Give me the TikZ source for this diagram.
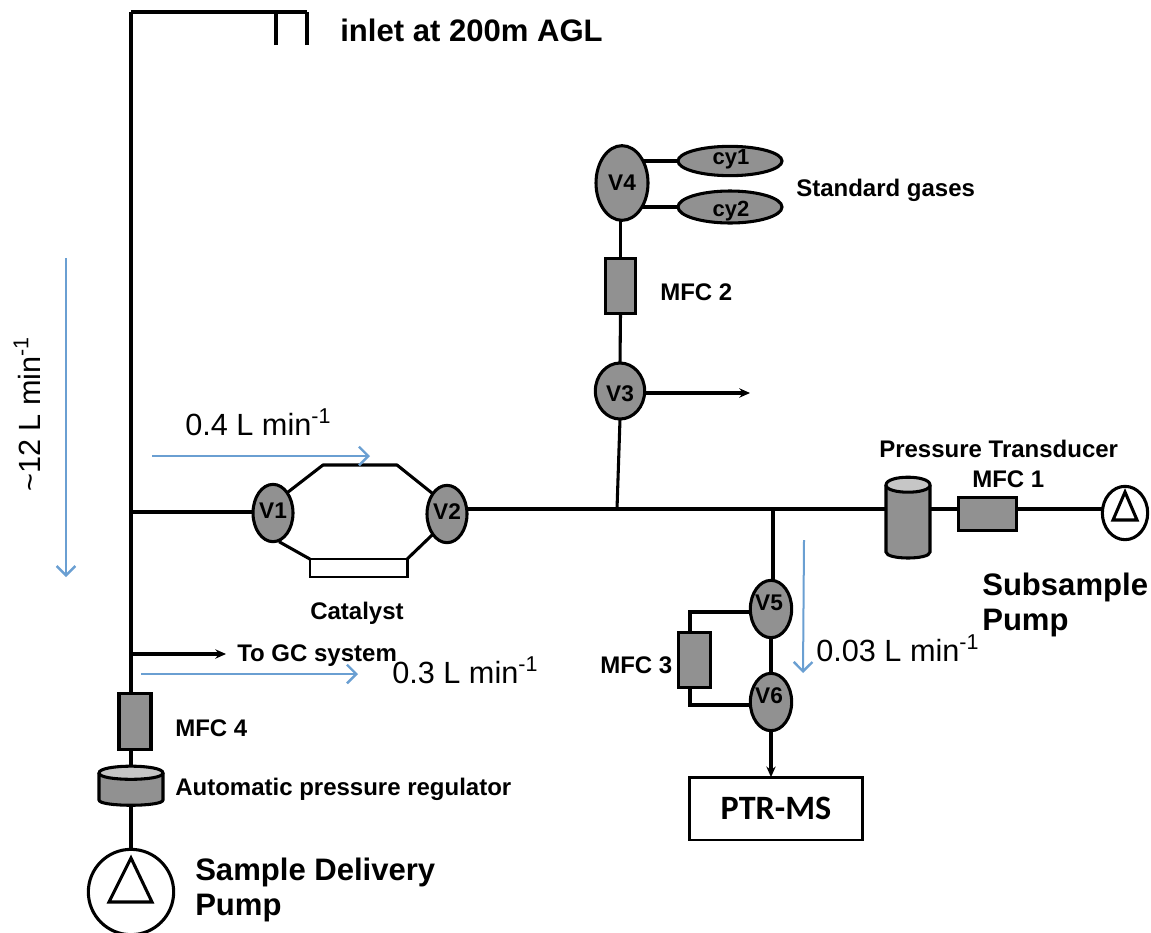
\documentclass[tikz,border=0pt]{standalone}
\usepackage{fontspec}
\setmainfont{Liberation Sans}
\newfontfamily\carlito{Carlito}
\usetikzlibrary{shapes.geometric,arrows.meta}
\newcommand{\fs}[1]{\fontsize{#1}{#1}\selectfont}
\definecolor{partgray}{HTML}{919191}
\definecolor{flowblue}{HTML}{6A9FD2}
\tikzset{
  x=0.75pt,y=-0.75pt,
  pipe/.style={line width=2.3pt,black},
  part/.style={draw=black,line width=2.3pt,fill=partgray,inner sep=0pt,outer sep=0pt},
  valve/.style={part,ellipse},
  mfc/.style={part,rectangle},
  whitebox/.style={draw=black,line width=2pt,fill=white,inner sep=0pt,outer sep=0pt,rectangle},
  pumpbody/.style={draw=black,line width=2.3pt,fill=white,ellipse,inner sep=0pt,outer sep=0pt},
  tri/.style={draw=black,line width=2.3pt,line join=miter},
  outarrow/.style={pipe,-{Stealth[length=8pt,width=7pt]}},
  flow/.style={draw=flowblue,line width=1.5pt,-{Straight Barb[length=7pt,width=14pt,line width=1.8pt]}},
  bold/.style={font=\bfseries\fs{18},anchor=west,inner sep=0pt},
  bigbold/.style={font=\bfseries\fs{23.3},anchor=west,inner sep=0pt},
  rate/.style={font=\fs{23},anchor=west,inner sep=0pt},
  vtext/.style={font=\bfseries\fs{17},inner sep=0pt},
}
\newcommand{\cylinder}[6]{% name, left, top, right, bottom, fill-top depth
  \node[rectangle,inner sep=0pt,outer sep=0pt,minimum width=#4*0.75pt-#2*0.75pt,minimum height=#5*0.75pt-#3*0.75pt,anchor=north west] (#1) at (#2,#3) {};
  \path[part] (#2,#3+#6) -- (#2,#5-#6) .. controls (#2,#5) and (#4,#5) .. (#4,#5-#6) -- (#4,#3+#6);
  \path[draw=black,line width=2.3pt,fill=gray!45] (#2,#3+#6) .. controls (#2,#3-#6*0.3) and (#4,#3-#6*0.3) .. (#4,#3+#6) .. controls (#4,#3+#6*2.2) and (#2,#3+#6*2.2) .. (#2,#3+#6) -- cycle;
}
\begin{document}
\begin{tikzpicture}
\useasboundingbox (0,0) rectangle (1151,932);
% junctions and bends
\coordinate (top) at (131,12);
\coordinate (capL) at (276,12);
\coordinate (capR) at (307,12);
\coordinate (capLe) at (276,45);
\coordinate (capRe) at (307,45);
\coordinate (jV1) at (131,512);
\coordinate (jGC) at (131,654);
\coordinate (gcEnd) at (226,654);
\coordinate (jV3) at (617,509);
\coordinate (jV5) at (773,509);
\coordinate (upA) at (323,465);
\coordinate (upB) at (397,465);
\coordinate (v3End) at (750,393);
% parts
\node[valve,minimum width=30pt,minimum height=43pt,label={[vtext,yshift=2pt]center:V1}] (V1) at (273,513) {};
\node[valve,minimum width=30pt,minimum height=43pt,label={[vtext,yshift=2pt]center:V2}] (V2) at (447,514) {};
\node[valve,minimum width=37pt,minimum height=42pt,label={[vtext,yshift=-2pt]center:V3}] (V3) at (620,391) {};
\node[valve,minimum width=39pt,minimum height=56pt,label={[vtext]center:V4}] (V4) at (622,183) {};
\node[valve,minimum width=78pt,minimum height=22pt] (C1) at (730,161) {};
\node[valve,minimum width=78pt,minimum height=24pt] (C2) at (730,207) {};
\node[vtext,font=\bfseries\fs{16.5}] (cy1t) at (731,159) {cy1};
\node[vtext,font=\bfseries\fs{16.5}] (cy2t) at (731,211) {cy2};
\node[valve,minimum width=31pt,minimum height=43pt,label={[vtext,xshift=-1.5pt,yshift=5pt]center:V5}] (V5) at (771,609) {};
\node[valve,minimum width=31pt,minimum height=43pt,label={[vtext,xshift=-1.5pt,yshift=5pt]center:V6}] (V6) at (771,702) {};
\node[mfc,minimum width=23pt,minimum height=41pt] (M2) at (620.5,286) {};
\node[mfc,minimum width=24pt,minimum height=41pt] (M3) at (694.5,660) {};
\node[mfc,minimum width=44pt,minimum height=25pt] (M1) at (987.5,514) {};
\node[mfc,minimum width=24pt,minimum height=42pt] (M4) at (135,721.5) {};
\node[whitebox,minimum width=73pt,minimum height=13.5pt] (Cat) at (358.5,568) {};
\node[whitebox,minimum width=130pt,minimum height=47pt,font=\carlito\bfseries\fs{25.6}] (PTR) at (776,808.5) {PTR-MS};
\node[pumpbody,minimum width=34pt,minimum height=40pt] (P1) at (1125,513) {};
\node[pumpbody,minimum width=64pt,minimum height=64pt] (P2) at (131,892) {};
\draw[tri] (1125,492) -- (1137,520) -- (1113,520) -- cycle;
\draw[tri] (131,858) -- (152,902) -- (109,902) -- cycle;
\cylinder{PT}{886}{477}{930}{560}{8}
\cylinder{AR}{99}{766}{163}{807}{7}
% pipes
\draw[pipe] (capLe) -- (capL) (capRe) -- (capR) (top) -- (capR);
\draw[pipe] (top) -- (M4.north -| top);
\draw[pipe] (M4.south -| top) -- (AR.north -| top);
\draw[pipe] (AR.south -| top) -- (P2.north);
\draw[pipe] (jV1) -- (V1.west |- jV1);
\draw[outarrow] (jGC) -- (gcEnd);
\draw[pipe,line join=round] (V1.north east) -- (upA) -- (upB) -- (V2.north west);
\draw[pipe] (V1.south) ++(6,0) -- (Cat.north west);
\draw[pipe] (Cat.north east) -- (V2.south west);
\draw[pipe] (V2.east |- jV3) -- (PT.west |- jV3);
\draw[pipe] (PT.east |- jV3) -- (M1.west |- jV3);
\draw[pipe] (M1.east |- jV3) -- (P1.west |- jV3);
\draw[pipe] (V3.south) -- (jV3);
\draw[pipe] (V3.north) -- (M2.south);
\draw[pipe] (M2.north) -- (M2.north |- V4.south);
\draw[outarrow] (V3.east) ++(0,2) -- (v3End);
\draw[pipe] (C1.west) -- ++(-34,0);
\draw[pipe] (C2.west) -- ++(-36,0);
\draw[pipe] (jV5) -- (V5.north -| jV5);
\draw[pipe] (V5.south) -- (V6.north);
\draw[outarrow] (V6.south) -- (V6.south |- PTR.north);
\draw[pipe] (V5.west) ++(0,3) -| (690,632);
\draw[pipe] (V6.west) ++(0,3) -| (690,688);
% flow arrows
\draw[flow] (152,456) -- (370,456);
\draw[flow] (141,674) -- (358,674);
\draw[flow] (66,258) -- (66,577);
\draw[flow] (804,540) -- (803,673);
% labels
\node[bigbold] (tInlet) at (340,30) {inlet at 200m AGL};
\node[rate,rotate=90] (t12) at (27,492) {\textasciitilde 12 L min\textsuperscript{-1}};
\node[rate] (t04) at (185,422) {0.4 L min\textsuperscript{-1}};
\node[bold] (tCat) at (310,613) {Catalyst};
\node[bold] (tGC) at (237,656) {To GC system};
\node[rate] (t03) at (392,670) {0.3 L min\textsuperscript{-1}};
\node[bold] (tM4) at (175,728) {MFC 4};
\node[bold] (tAR) at (175,789) {Automatic pressure regulator};
\node[bigbold] (tSD) at (195,872) {Sample Delivery};
\node[bigbold] (tSP) at (195,908) {Pump};
\node[bold] (tPT) at (879,449) {Pressure Transducer};
\node[bold] (tM1) at (972,479) {MFC 1};
\node[bigbold] (tSub) at (982,587) {Subsample};
\node[bigbold] (tSubP) at (982,623) {Pump};
\node[rate] (t003) at (816,648) {0.03 L min\textsuperscript{-1}};
\node[bold] (tM3) at (600,665) {MFC 3};
\node[bold] (tM2) at (660,292) {MFC 2};
\node[bold] (tStd) at (796,190) {Standard gases};
\end{tikzpicture}
\end{document}
